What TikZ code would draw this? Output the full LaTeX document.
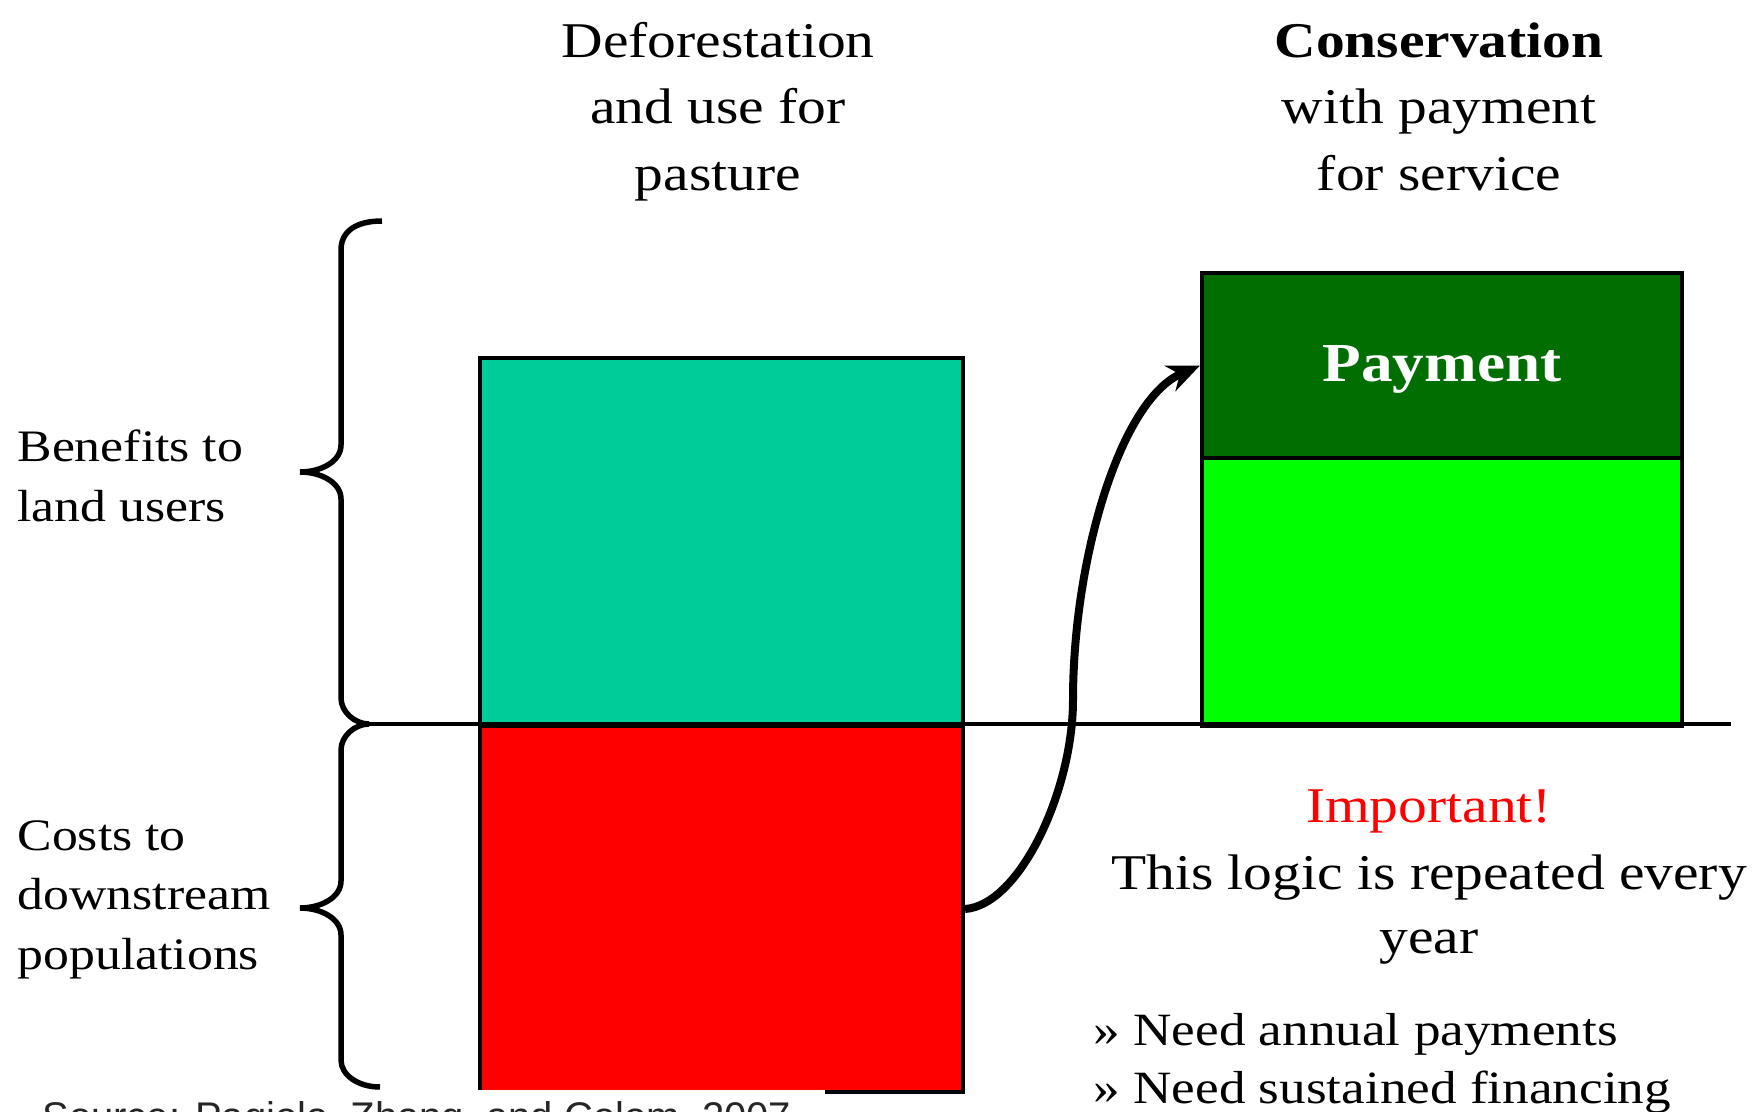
\documentclass[tikz,border=0pt]{standalone}
\usepackage{fontspec}
\setmainfont[FakeStretch=1.15]{Liberation Serif}
\newfontfamily\srcfont{Liberation Sans}
\usetikzlibrary{arrows.meta}
\definecolor{tealbox}{RGB}{0,204,153}
\definecolor{darkgreenbox}{RGB}{0,110,0}
\definecolor{limebox}{RGB}{0,255,0}
\definecolor{redbox}{RGB}{255,0,0}
\tikzset{
  bar/.style={draw=black, line width=1.6pt, inner sep=0pt, anchor=north west},
  brace/.style={draw=black, line width=2.2pt},
  title/.style={anchor=base, align=center, inner sep=0pt, font=\fontsize{20}{26.4}\selectfont},
  side/.style={anchor=base west, align=left, inner sep=0pt, font=\fontsize{18}{23.7}\selectfont},
}
\begin{document}
\begin{tikzpicture}[x=0.4pt, y=-0.4pt]
\useasboundingbox (0,0) rectangle (1753,1112);
\fill[white] (0,0) rectangle (1753,1112);
% titles (base = last line)
\node[title] (t1) at (718,190) {Deforestation\\and use for\\pasture};
\node[title] (t2) at (1439,190) {\textbf{Conservation}\\with payment\\for service};
% bars
\node[bar, fill=tealbox, minimum width=193.2pt, minimum height=147.2pt] (ben) at (478,356) {};
\node[bar, fill=redbox, minimum width=193.2pt, minimum height=146.4pt] (cost) at (478,724) {};
\node[bar, fill=limebox, minimum width=192pt, minimum height=107.2pt] (cons) at (1200,456) {};
\node[bar, fill=darkgreenbox, minimum width=192pt, minimum height=74pt, text=white,
      text depth=2pt, font=\fontsize{22}{26}\selectfont\bfseries] (pay) at (1200,271) {Payment};
% axis line
\coordinate (ltip) at (369,724);
\coordinate (rend) at (1731,724);
\draw[line width=1.4pt] (ltip) -- (rend);
% braces
\draw[brace] (382,221) .. controls (355,221) and (341,232) .. (341,250) -- (341,445)
  .. controls (341,462) and (320,472) .. (300,472)
  .. controls (320,472) and (341,482) .. (341,499) -- (341,698)
  .. controls (341,712) and (355,724) .. (ltip);
\draw[brace] (ltip) .. controls (355,724) and (341,736) .. (341,750) -- (341,881)
  .. controls (341,898) and (320,908) .. (300,908)
  .. controls (320,908) and (341,918) .. (341,935) -- (341,1060)
  .. controls (341,1075) and (358,1087) .. (380,1087);
% side labels (base = last line)
\node[side] (lb) at (17,521) {Benefits to\\land users};
\node[side] (lc) at (17,969) {Costs to\\downstream\\populations};
% arrow
\coordinate (amid) at (1073,700);
\draw[line width=3.2pt, -{Stealth[length=13pt,width=11pt]}]
  (cost.east) .. controls (1020,905) and (1073,790) .. (amid)
  .. controls (1073,560) and (1120,400) .. (pay.west);
% right text
\node[title, text=redbox] (imp) at (1429,822) {Important!};
\node[title, font=\fontsize{20}{25.6}\selectfont] (logic) at (1429,953) {This logic is repeated every\\year};
\node[side, font=\fontsize{18.5}{23.2}\selectfont] (needs) at (1093,1103) {» Need annual payments\\» Need sustained financing};
% source
\fill[white] (0,1090) rectangle (825,1112);
\begin{scope}
\clip (0,0) rectangle (1753,1112);
\node[anchor=base west, inner sep=0pt, text=black!85, font=\srcfont\fontsize{16}{19}\selectfont] (src) at (42,1130) {Source: Pagiola, Zhang, and Colom, 2007};
\end{scope}
\end{tikzpicture}
\end{document}
